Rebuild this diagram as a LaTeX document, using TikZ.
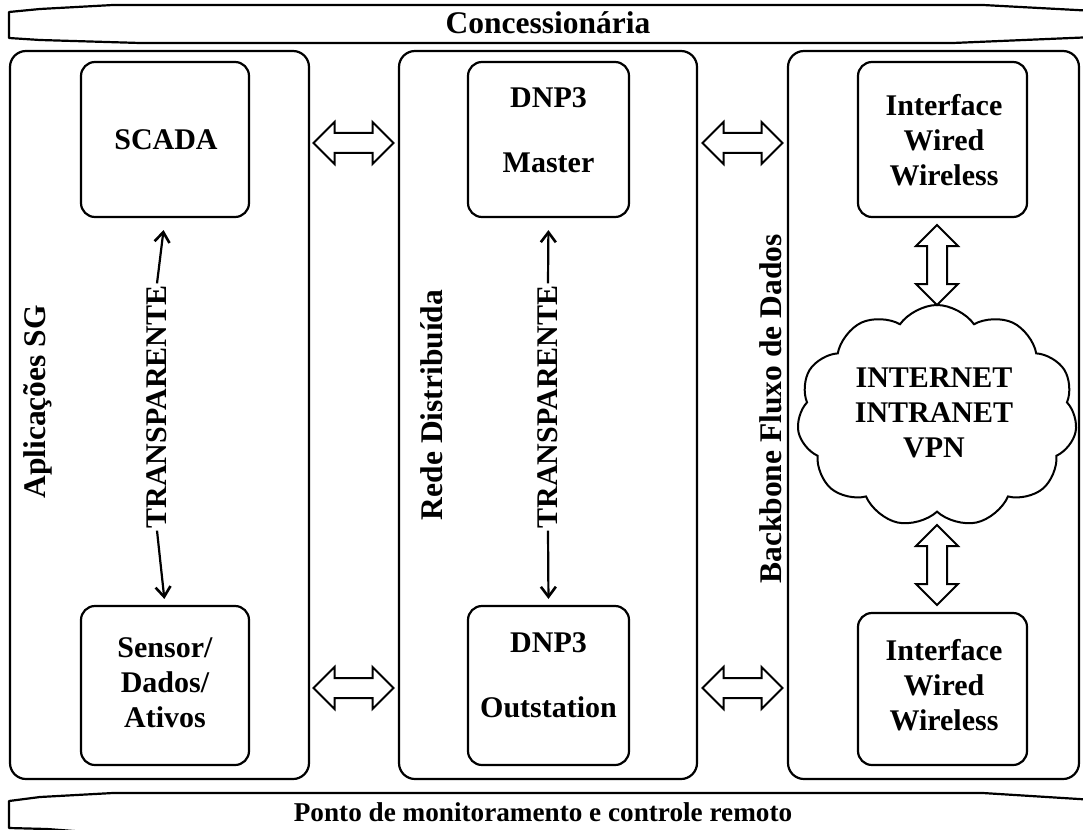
\documentclass[tikz,border=0pt]{standalone}
\usepackage{fontspec}
\setmainfont{Liberation Serif}
\usetikzlibrary{shapes.symbols,shapes.arrows,arrows.meta}

\begin{document}
\begin{tikzpicture}[x=1pt,y=-1pt,
  panel/.style={draw, line width=2.2pt, rounded corners=16pt, inner sep=0pt},
  box/.style={draw, line width=2.2pt, rounded corners=14pt, inner sep=0pt},
  txt/.style={font=\fontsize{30}{35}\selectfont\bfseries, align=center, inner sep=2pt},
  bigtxt/.style={txt, font=\fontsize{31.5}{35}\selectfont\bfseries},
  banner/.style={draw, line width=2.2pt, line join=round},
  dbl/.style={double arrow, draw, line width=2pt, inner xsep=0pt, inner ysep=9pt,
    minimum height=80pt, double arrow head extend=11pt, double arrow tip angle=90},
  sarr/.style={line width=2.2pt, -{Straight Barb[length=10pt,width=15pt,line width=2.6pt]}}
]
\useasboundingbox (0,0) rectangle (1083,829);
\clip (0,0) rectangle (1083,829);

% top and bottom scroll banners
\draw[banner] (9,12) -- (40,9) -- (113,5) -- (983,5) -- (1095,11)
  -- (1095,37) -- (953,43) -- (140,43) -- (40,40) -- (9,38) -- cycle;
\node[bigtxt] (conc) at (548,23) {Concessionária};
\draw[banner] (9,801) -- (40,797) -- (113,793) -- (983,793) -- (1095,800)
  -- (1095,840) -- (140,836) -- (47,829) -- (9,828) -- cycle;
\node[txt, font=\fontsize{27.2}{35}\selectfont\bfseries] (ponto) at (543,812)
  {Ponto de monitoramento e controle remoto};

% three column panels
\node[panel, minimum width=299pt, minimum height=728pt] (papp) at (159.5,415) {};
\node[panel, minimum width=298pt, minimum height=728pt] (prede) at (548,415) {};
\node[panel, minimum width=291pt, minimum height=728pt] (pback) at (933.5,415) {};

\node[bigtxt, rotate=90] (lapp) at (38,402) {Aplicações SG};
\node[bigtxt, rotate=90] (lrede) at (432,405) {Rede Distribuída};
\node[bigtxt, rotate=90] (lback) at (771,409) {Backbone Fluxo de Dados};

% inner boxes
\node[box, minimum width=168pt, minimum height=155pt] (scada) at (165,139.5) {};
\node[box, minimum width=168pt, minimum height=159pt] (sensor) at (165,685.5) {};
\node[box, minimum width=161pt, minimum height=155pt] (master) at (548.5,139.5) {};
\node[box, minimum width=161pt, minimum height=159pt] (outst) at (548.5,685.5) {};
\node[box, minimum width=169pt, minimum height=155pt] (ifup) at (942.5,139.5) {};
\node[box, minimum width=169pt, minimum height=152pt] (ifdn) at (942.5,689) {};

\node[txt] (scadat) at (166,140) {SCADA};
\node[txt] (sensort) at (165,683) {Sensor/\\Dados/\\Ativos};
\node[txt] (mastert) at (548.5,130.5) {DNP3\\[30pt]Master};
\node[txt] (outstt) at (548.5,675) {DNP3\\[30pt]Outstation};
\node[txt] (ifupt) at (944,140) {Interface\\Wired\\Wireless};
\node[txt] (ifdnt) at (944,685) {Interface\\Wired\\Wireless};

% cloud
\node[cloud, draw, line width=2pt, cloud puffs=11, cloud puff arc=110, aspect=1.27,
  minimum width=280pt, minimum height=222pt, inner sep=0pt] (net) at (937,416) {};
\node[txt] (nett) at (934,413) {INTERNET\\INTRANET\\VPN};

% transparent links
\node[txt, rotate=90] (tr1) at (157,407) {TRANSPARENTE};
\node[txt, rotate=90] (tr2) at (548,407) {TRANSPARENTE};
\draw[sarr, shorten >=12pt] (tr1.east) -- (scada.south);
\draw[sarr, shorten >=6pt] (tr1.west) -- (sensor.north);
\draw[sarr, shorten >=12pt] (tr2.east) -- (master.south);
\draw[sarr, shorten >=6pt] (tr2.west) -- (outst.north);

% block double arrows between columns
\node[dbl] (a1) at (353.5,143) {};
\node[dbl] (a2) at (353.5,688) {};
\node[dbl] (a3) at (742.5,143) {};
\node[dbl] (a4) at (742.5,688) {};
\node[dbl, rotate=90] (a5) at (937,265) {};
\node[dbl, rotate=90] (a6) at (937,565) {};
\end{tikzpicture}
\end{document}
